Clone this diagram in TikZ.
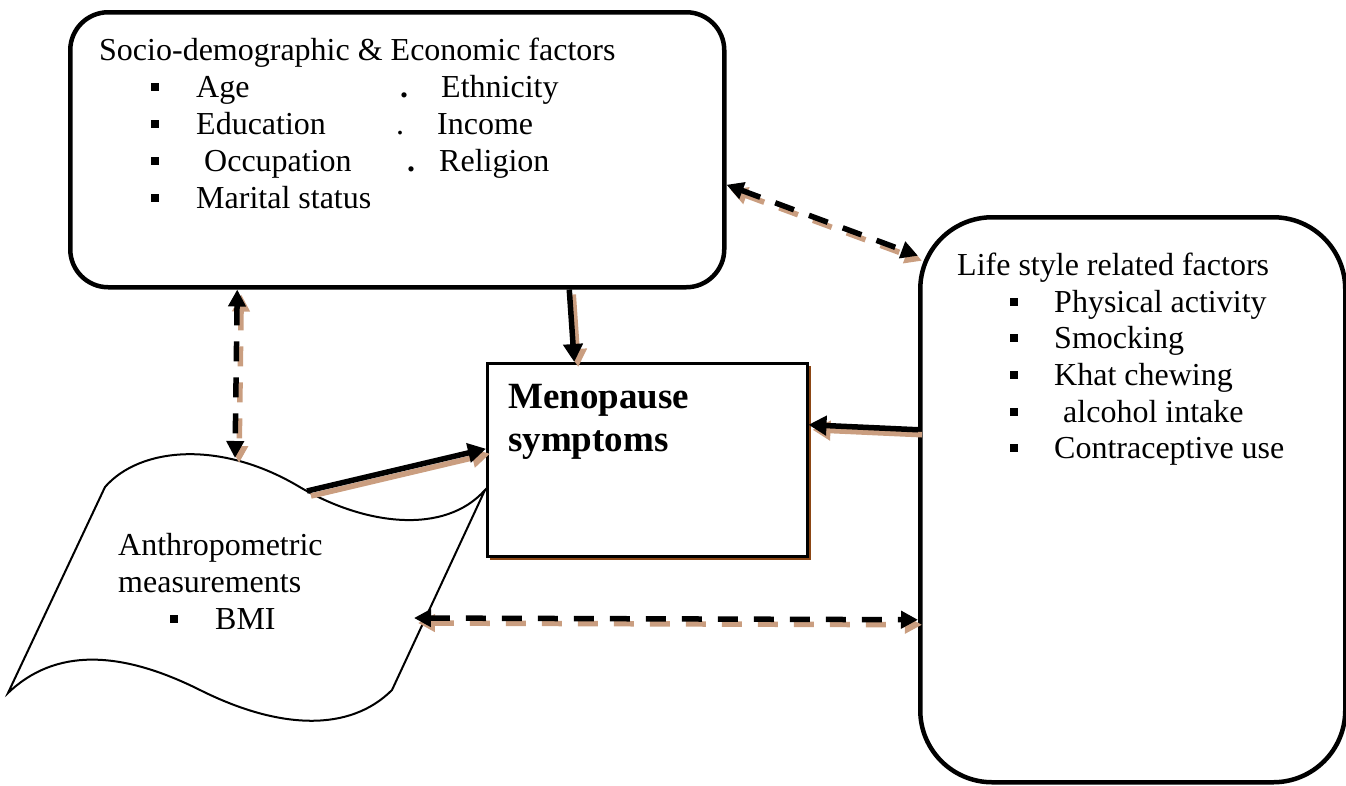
\documentclass[tikz,border=0pt]{standalone}
\usepackage{fontspec}
\setmainfont{Liberation Serif}
\usetikzlibrary{arrows.meta}
\definecolor{shadowtan}{RGB}{202,158,128}
\definecolor{boxbrown}{RGB}{140,70,20}
\begin{document}
\begin{tikzpicture}[x=1pt,y=-1pt,
  txt/.style={anchor=base west, inner sep=0pt, font=\fontsize{32}{37}\selectfont},
  bigtxt/.style={anchor=base west, inner sep=0pt, font=\fontsize{37}{42}\selectfont\bfseries},
  bul/.style={fill=black, minimum size=8pt, inner sep=0pt},
  bigbox/.style={draw, line width=4.5pt, fill=white},
  conn/.style={line width=5.5pt, -{Triangle[length=18pt,width=19pt]}},
  dconn/.style={line width=5.5pt, dash pattern=on 20pt off 16pt,
     {Triangle[length=17pt,width=17pt]}-{Triangle[length=17pt,width=17pt]}},
  shad/.style={draw=shadowtan, transform canvas={shift={(4,5)}}}
]
\useasboundingbox (0,0) rectangle (1346,785);

% boxes
\node[bigbox, rounded corners=38pt, minimum width=654pt, minimum height=275pt,
      anchor=north west] (socio) at (68,10) {};
\node[bigbox, rounded corners=72pt, minimum width=425pt, minimum height=565pt,
      anchor=north west] (life) at (918,215) {};
\fill[boxbrown] (490,366) rectangle (811,560);
\node[draw, line width=2.5pt, fill=white, minimum width=320pt, minimum height=193pt,
      anchor=north west] (meno) at (486,362) {};

% wave (punched tape) shape
\coordinate (wTL) at (105,487);
\coordinate (wTR) at (485,490);
\coordinate (wBR) at (392,690);
\coordinate (wBL) at (8,693);
\draw[line width=2pt, fill=white] (wTL) .. controls (140,447) and (220,440) .. (298,486)
   .. controls (365,526) and (445,535) .. (wTR) -- (wBR)
   .. controls (350,732) and (280,730) .. (200,690)
   .. controls (120,650) and (55,648) .. (wBL) -- cycle;
\coordinate (waveA) at (307,491);
\coordinate (waveTop) at (235,458);
\coordinate (waveR) at (414,618);

% texts: socio
\node[txt] (t0) at (99,60) {Socio-demographic \& Economic factors};
\node[bul] (b1) at (155,87) {};
\node[bul] (b2) at (155,124) {};
\node[bul] (b3) at (155,161) {};
\node[bul] (b4) at (155,198) {};
\node[txt] (age) at (196,97) {Age};
\node[txt] (edu) at (196,134) {Education};
\node[txt] (occ) at (204,171) {Occupation};
\node[txt] (mar) at (196,208) {Marital status};
\node[txt] (d1) at (400,97) {\textbf{.}};
\node[txt] (d2) at (396,134) {.};
\node[txt] (d3) at (407,171) {\textbf{.}};
\node[txt] (eth) at (441,97) {Ethnicity};
\node[txt] (inc) at (437,134) {Income};
\node[txt] (rel) at (439,171) {Religion};

% texts: life
\node[txt] (l0) at (957,275) {Life style related factors};
\node[bul] (lb1) at (1014,302) {};
\node[bul] (lb2) at (1014,338) {};
\node[bul] (lb3) at (1014,375) {};
\node[bul] (lb4) at (1014,412) {};
\node[bul] (lb5) at (1014,448) {};
\node[txt] (phy) at (1054,312) {Physical activity};
\node[txt] (smo) at (1054,348) {Smocking};
\node[txt] (kha) at (1054,385) {Khat chewing};
\node[txt] (alc) at (1063,422) {alcohol intake};
\node[txt] (con) at (1054,458) {Contraceptive use};

% texts: menopause
\node[bigtxt] (m1) at (508,408) {Menopause};
\node[bigtxt] (m2) at (508,451) {symptoms};

% texts: anthropometric
\node[txt] (a1) at (118,555) {Anthropometric};
\node[txt] (a2) at (118,592) {measurements};
\node[bul] (ab) at (174,619) {};
\node[txt] (bmi) at (215,629) {BMI};

% connector shadows
\draw[conn, shad] ([xshift=172pt]socio.south) -- ([xshift=-73pt]meno.north);
\draw[conn, shad] (waveA) -- ([yshift=11pt]meno.west);
\draw[conn, shad] ([yshift=70pt]life.west) -- ([yshift=35pt]meno.east);
\draw[dconn, shad] ([yshift=-35pt]socio.east) -- ([yshift=244pt]life.west);
\draw[dconn, shad] ([xshift=-160pt]socio.south) -- (waveTop);
\draw[dconn, shad] (waveR) -- ([yshift=-120pt]life.west);

% connectors
\draw[conn] ([xshift=172pt]socio.south) -- ([xshift=-73pt]meno.north);
\draw[conn] (waveA) -- ([yshift=11pt]meno.west);
\draw[conn] ([yshift=70pt]life.west) -- ([yshift=35pt]meno.east);
\draw[dconn] ([yshift=-35pt]socio.east) -- ([yshift=244pt]life.west);
\draw[dconn] ([xshift=-160pt]socio.south) -- (waveTop);
\draw[dconn] (waveR) -- ([yshift=-120pt]life.west);
\end{tikzpicture}
\end{document}
